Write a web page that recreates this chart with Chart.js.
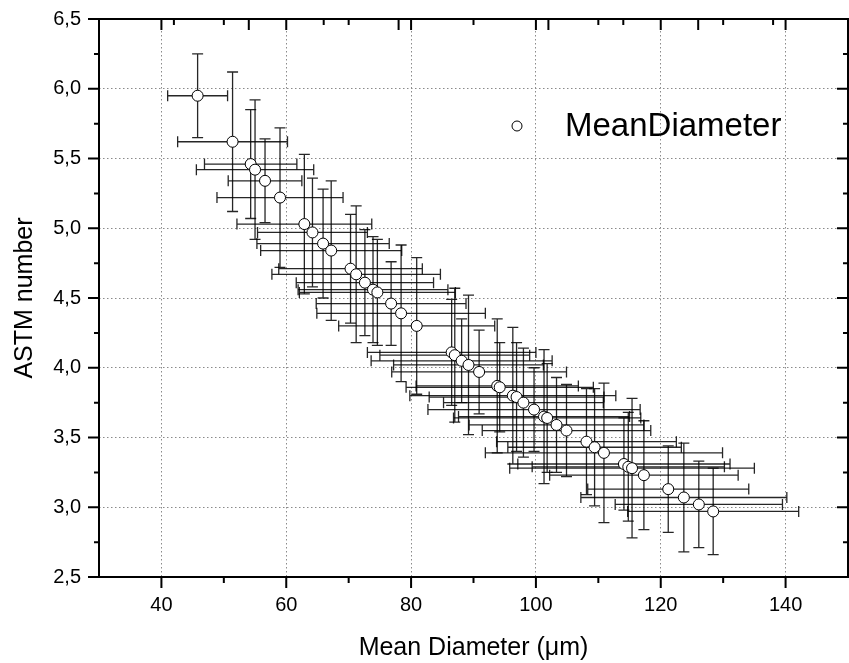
<!DOCTYPE html>
<html lang="en">
<head>
    <meta charset="UTF-8">
    <title>ASTM number vs Mean Diameter</title>
    <script src="https://cdn.jsdelivr.net/npm/chart.js@4.4.1/dist/chart.umd.min.js"></script>
    <style>
        body {
            margin: 0;
            background-color: #ffffff;
            font-family: 'Liberation Sans', Arial, sans-serif;
        }
        .chart-box {
            width: 849px;
            height: 663px;
        }
    </style>
</head>
<body>
    <div class="chart-box">
        <canvas id="astmChart" width="849" height="663"></canvas>
    </div>

    <script>
        // Mean diameter (um) and its spread, ASTM number and its spread
        const meanDiameter = [45.8, 51.4, 54.3, 55.0, 56.6, 59.0, 62.9, 64.2, 65.9, 67.2,
            70.3, 71.2, 72.6, 73.9, 74.6, 76.8, 78.4, 80.9, 86.5, 87.0,
            88.1, 89.2, 90.9, 93.8, 94.2, 96.3, 96.9, 98.0, 99.7, 101.3,
            101.8, 103.3, 104.9, 108.1, 109.4, 110.9, 114.1, 114.8, 115.4, 117.3,
            121.2, 123.7, 126.1, 128.4];
        const diameterErr = [4.8, 8.8, 7.4, 9.4, 5.9, 10.1, 10.8, 8.8, 10.6, 11.3,
            11.5, 13.5, 11.0, 12.0, 12.5, 12.0, 13.5, 12.5, 13.5, 12.0,
            14.5, 12.0, 14.0, 13.0, 15.0, 16.5, 14.0, 12.8, 17.0, 13.7,
            15.0, 14.0, 13.5, 14.4, 13.9, 19.0, 17.0, 15.4, 19.6, 15.1,
            12.9, 16.5, 13.4, 13.7];
        const astmNumber = [5.95, 5.62, 5.46, 5.42, 5.34, 5.22, 5.03, 4.97, 4.89, 4.84,
            4.71, 4.67, 4.61, 4.56, 4.54, 4.46, 4.39, 4.30, 4.11, 4.09,
            4.05, 4.02, 3.97, 3.87, 3.86, 3.80, 3.79, 3.75, 3.70, 3.65,
            3.64, 3.59, 3.55, 3.47, 3.43, 3.39, 3.31, 3.29, 3.28, 3.23,
            3.13, 3.07, 3.02, 2.97];
        const astmErr = [0.30, 0.50, 0.39, 0.50, 0.30, 0.50, 0.50, 0.39, 0.39, 0.50,
            0.39, 0.49, 0.38, 0.38, 0.38, 0.30, 0.49, 0.49, 0.38, 0.48,
            0.30, 0.50, 0.30, 0.48, 0.32, 0.49, 0.39, 0.39, 0.30, 0.48,
            0.39, 0.34, 0.33, 0.38, 0.42, 0.50, 0.33, 0.39, 0.50, 0.39,
            0.31, 0.39, 0.31, 0.31];

        // Axis ticks
        const xMajor = [40, 60, 80, 100, 120, 140];
        const xMinor = [50, 70, 90, 110, 130];
        const topLong = [54, 78, 102, 126];
        const topShort = [42, 66, 90, 114, 138];
        const yMajor = [2.5, 3.0, 3.5, 4.0, 4.5, 5.0, 5.5, 6.0, 6.5];
        const yMinor = [2.75, 3.25, 3.75, 4.25, 4.75, 5.25, 5.75, 6.25];

        const fontFamily = "'Liberation Sans', Arial, sans-serif";

        // x and y error bars, drawn under the circles
        const errorBars = {
            id: 'errorBars',
            beforeDatasetsDraw(chart) {
                const { ctx, scales: { x, y } } = chart;
                const cap = 5.5;
                ctx.save();
                ctx.strokeStyle = 'rgba(0, 0, 0, 0.85)';
                ctx.lineWidth = 1.3;
                meanDiameter.forEach((d, i) => {
                    const px = x.getPixelForValue(d);
                    const py = y.getPixelForValue(astmNumber[i]);
                    const x1 = x.getPixelForValue(d - diameterErr[i]);
                    const x2 = x.getPixelForValue(d + diameterErr[i]);
                    const y1 = y.getPixelForValue(astmNumber[i] + astmErr[i]);
                    const y2 = y.getPixelForValue(astmNumber[i] - astmErr[i]);
                    ctx.beginPath();
                    ctx.moveTo(x1, py); ctx.lineTo(x2, py);
                    ctx.moveTo(x1, py - cap); ctx.lineTo(x1, py + cap);
                    ctx.moveTo(x2, py - cap); ctx.lineTo(x2, py + cap);
                    ctx.moveTo(px, y1); ctx.lineTo(px, y2);
                    ctx.moveTo(px - cap, y1); ctx.lineTo(px + cap, y1);
                    ctx.moveTo(px - cap, y2); ctx.lineTo(px + cap, y2);
                    ctx.stroke();
                });
                ctx.restore();
            }
        };

        // Frame with tick marks on all four sides
        const frameTicks = {
            id: 'frameTicks',
            afterDraw(chart) {
                const { ctx, chartArea: a, scales: { x, y } } = chart;
                ctx.save();
                ctx.strokeStyle = '#000';
                ctx.lineWidth = 2;
                ctx.beginPath();
                xMajor.forEach(v => {
                    const px = x.getPixelForValue(v);
                    ctx.moveTo(px, a.bottom); ctx.lineTo(px, a.bottom + 11);
                    ctx.moveTo(px, a.top); ctx.lineTo(px, a.top + 11);
                });
                xMinor.forEach(v => {
                    const px = x.getPixelForValue(v);
                    ctx.moveTo(px, a.bottom); ctx.lineTo(px, a.bottom + 6);
                    ctx.moveTo(px, a.top); ctx.lineTo(px, a.top + 6);
                });
                topLong.forEach(v => {
                    const px = x.getPixelForValue(v);
                    ctx.moveTo(px, a.top); ctx.lineTo(px, a.top + 11);
                });
                topShort.forEach(v => {
                    const px = x.getPixelForValue(v);
                    ctx.moveTo(px, a.top); ctx.lineTo(px, a.top + 6);
                });
                yMajor.forEach(v => {
                    const py = y.getPixelForValue(v);
                    ctx.moveTo(a.left - 11, py); ctx.lineTo(a.left, py);
                    ctx.moveTo(a.right - 11, py); ctx.lineTo(a.right, py);
                });
                yMinor.forEach(v => {
                    const py = y.getPixelForValue(v);
                    ctx.moveTo(a.left - 5, py); ctx.lineTo(a.left, py);
                    ctx.moveTo(a.right - 5, py); ctx.lineTo(a.right, py);
                });
                ctx.stroke();
                ctx.strokeRect(a.left, a.top, a.right - a.left, a.bottom - a.top);
                ctx.restore();
            }
        };

        // Legend sits inside the plot, upper right
        const insideLegend = {
            id: 'insideLegend',
            afterDraw(chart) {
                const { ctx } = chart;
                const ds = chart.data.datasets[0];
                ctx.save();
                ctx.beginPath();
                ctx.arc(517, 126, 5, 0, Math.PI * 2);
                ctx.fillStyle = '#fff';
                ctx.fill();
                ctx.lineWidth = 1;
                ctx.strokeStyle = '#000';
                ctx.stroke();
                ctx.fillStyle = '#000';
                ctx.font = '33px ' + fontFamily;
                ctx.textBaseline = 'middle';
                ctx.textAlign = 'left';
                ctx.fillText(ds.label, 565, 127);
                ctx.restore();
            }
        };

        new Chart(document.getElementById('astmChart'), {
            type: 'scatter',
            data: {
                datasets: [{
                    label: 'MeanDiameter',
                    data: meanDiameter.map((d, i) => ({ x: d, y: astmNumber[i] })),
                    pointStyle: 'circle',
                    pointRadius: 5.5,
                    pointBackgroundColor: '#ffffff',
                    pointBorderColor: '#000000',
                    pointBorderWidth: 1
                }]
            },
            options: {
                responsive: false,
                animation: false,
                layout: {
                    autoPadding: false,
                    padding: { top: 19, right: 1, left: 0, bottom: 0 }
                },
                plugins: {
                    legend: { display: false },
                    tooltip: { enabled: false }
                },
                scales: {
                    x: {
                        type: 'linear',
                        min: 30,
                        max: 150,
                        afterBuildTicks: scale => { scale.ticks = xMajor.map(v => ({ value: v })); },
                        afterFit: scale => {
                            scale.height = 86;
                            scale.paddingLeft = 0;
                            scale.paddingRight = 0;
                        },
                        border: { display: false, dash: [1.5, 2.5] },
                        grid: { color: '#8a8a8a', lineWidth: 1, drawTicks: false },
                        ticks: {
                            color: '#000',
                            padding: 16,
                            maxRotation: 0,
                            font: { family: fontFamily, size: 20 }
                        },
                        title: {
                            display: true,
                            text: 'Mean Diameter (\u03bcm)',
                            color: '#000',
                            padding: { top: 0, bottom: 0 },
                            font: { family: fontFamily, size: 25 }
                        }
                    },
                    y: {
                        type: 'linear',
                        min: 2.5,
                        max: 6.5,
                        afterBuildTicks: scale => { scale.ticks = yMajor.map(v => ({ value: v })); },
                        afterFit: scale => {
                            scale.width = 99;
                            scale.paddingTop = 0;
                            scale.paddingBottom = 0;
                        },
                        border: { display: false, dash: [1.5, 2.5] },
                        grid: { color: '#8a8a8a', lineWidth: 1, drawTicks: false },
                        ticks: {
                            color: '#000',
                            padding: 18,
                            font: { family: fontFamily, size: 20 },
                            callback: v => v.toFixed(1).replace('.', ',')
                        },
                        title: {
                            display: true,
                            text: 'ASTM number',
                            color: '#000',
                            padding: { top: 10, bottom: 0 },
                            font: { family: fontFamily, size: 25 }
                        }
                    }
                }
            },
            plugins: [errorBars, frameTicks, insideLegend]
        });
    </script>
</body>
</html>
